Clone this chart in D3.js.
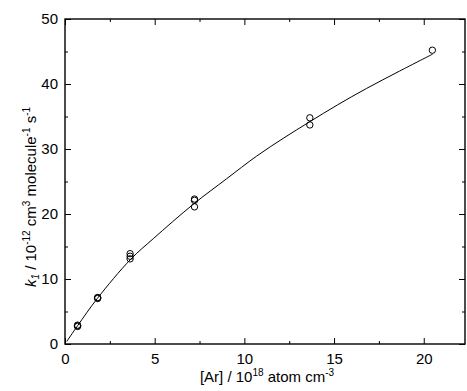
<!DOCTYPE html>
<html>
<head>
<meta charset="utf-8">
<script src="https://cdn.jsdelivr.net/npm/d3@7/dist/d3.min.js"></script>
<style>
  body { margin: 0; background: #fff; }
  svg { display: block; font-family: "Liberation Sans", Arial, sans-serif; }
</style>
</head>
<body>
<svg id="chart" width="467" height="391"></svg>
<script>
// measured data: [Ar] (1e18 atom cm^-3) and k1 (1e-12 cm3 molecule-1 s-1)
const arConc = [0.7, 0.7, 0.7, 1.82, 1.82, 1.82, 3.63, 3.63, 3.63, 7.22, 7.22, 7.22, 13.65, 13.65, 20.48];
const k1Vals = [2.7, 2.8, 2.9, 7.0, 7.1, 7.15, 13.1, 13.5, 13.9, 21.1, 22.1, 22.3, 33.7, 34.8, 45.2];

// fitted curve
const fitX = [0.1, 0.7, 1.8, 3.65, 4.92, 7.15, 9.0, 10.68, 12.2, 13.65, 15.2, 16.8, 18.66, 20.5];
const fitY = [0.4, 2.8, 7.0, 13.0, 16.2, 21.5, 25.4, 28.9, 31.7, 34.2, 36.8, 39.3, 42.0, 44.6];

const xMajor = [0, 5, 10, 15, 20];
const xMinor = [2.5, 7.5, 12.5, 17.5];
const yMajor = [0, 10, 20, 30, 40, 50];
const yMinor = [5, 15, 25, 35, 45];

const svg = d3.select("#chart");
const L = 65, R = 465, T = 19, B = 344;
const x = d3.scaleLinear().domain([0, 22.3]).range([L, R]);
const y = d3.scaleLinear().domain([0, 50]).range([B, T]);

const fontSize = "15px";
const supSize = "10px";

function styleAxis(g) {
  g.select(".domain").remove();
  g.selectAll(".tick line").attr("stroke", "#000").attr("stroke-width", 1);
  g.selectAll("text").attr("font-size", fontSize).attr("fill", "#000")
    .attr("font-family", '"Liberation Sans", Arial, sans-serif');
}

// bottom axis
svg.append("g").attr("transform", `translate(0,${B})`)
  .call(d3.axisBottom(x).tickValues(xMajor).tickSize(-6).tickPadding(9).tickFormat(d3.format("d")))
  .call(styleAxis);
svg.append("g").attr("transform", `translate(0,${B})`)
  .call(d3.axisBottom(x).tickValues(xMinor).tickSize(-3).tickFormat(""))
  .call(styleAxis);
// top axis
svg.append("g").attr("transform", `translate(0,${T})`)
  .call(d3.axisTop(x).tickValues(xMajor).tickSize(-6).tickFormat(""))
  .call(styleAxis);
svg.append("g").attr("transform", `translate(0,${T})`)
  .call(d3.axisTop(x).tickValues(xMinor).tickSize(-3).tickFormat(""))
  .call(styleAxis);
// left axis
svg.append("g").attr("transform", `translate(${L},0)`)
  .call(d3.axisLeft(y).tickValues(yMajor).tickSize(-6).tickPadding(7).tickFormat(d3.format("d")))
  .call(styleAxis);
svg.append("g").attr("transform", `translate(${L},0)`)
  .call(d3.axisLeft(y).tickValues(yMinor).tickSize(-3).tickFormat(""))
  .call(styleAxis);
// right axis
svg.append("g").attr("transform", `translate(${R},0)`)
  .call(d3.axisRight(y).tickValues(yMajor).tickSize(-6).tickFormat(""))
  .call(styleAxis);
svg.append("g").attr("transform", `translate(${R},0)`)
  .call(d3.axisRight(y).tickValues(yMinor).tickSize(-3).tickFormat(""))
  .call(styleAxis);

// frame
svg.append("rect").attr("x", L).attr("y", T).attr("width", R - L).attr("height", B - T)
  .attr("fill", "none").attr("stroke", "#000").attr("stroke-width", 1.4);

// fit line
const line = d3.line().x(d => x(d[0])).y(d => y(d[1])).curve(d3.curveCatmullRom.alpha(0.5));
svg.append("path").datum(fitX.map((v, i) => [v, fitY[i]]))
  .attr("d", line).attr("fill", "none").attr("stroke", "#000").attr("stroke-width", 1);

// points
svg.append("g").selectAll("circle").data(arConc.map((v, i) => [v, k1Vals[i]]))
  .join("circle")
  .attr("cx", d => x(d[0])).attr("cy", d => y(d[1])).attr("r", 3.2)
  .attr("fill", "none").attr("stroke", "#000").attr("stroke-width", 1);

// x title
const xt = svg.append("text").attr("x", (L + R) / 2 + 2).attr("y", 382)
  .attr("text-anchor", "middle").attr("font-size", fontSize);
xt.append("tspan").text("[Ar] / 10");
xt.append("tspan").attr("dy", -6).attr("font-size", supSize).text("18");
xt.append("tspan").attr("dy", 6).text(" atom cm");
xt.append("tspan").attr("dy", -6).attr("font-size", supSize).text("-3");

// y title
const yt = svg.append("text").attr("transform", `translate(36,197) rotate(-90)`)
  .attr("text-anchor", "middle").attr("font-size", fontSize);
yt.append("tspan").attr("font-style", "italic").text("k");
yt.append("tspan").attr("dy", 3).attr("font-size", supSize).attr("font-style", "italic").text("1");
yt.append("tspan").attr("dy", -3).text(" / 10");
yt.append("tspan").attr("dy", -6).attr("font-size", supSize).text("-12");
yt.append("tspan").attr("dy", 6).text(" cm");
yt.append("tspan").attr("dy", -6).attr("font-size", supSize).text("3");
yt.append("tspan").attr("dy", 6).text(" molecule");
yt.append("tspan").attr("dy", -6).attr("font-size", supSize).text("-1");
yt.append("tspan").attr("dy", 6).text(" s");
yt.append("tspan").attr("dy", -6).attr("font-size", supSize).text("-1");
</script>
</body>
</html>
